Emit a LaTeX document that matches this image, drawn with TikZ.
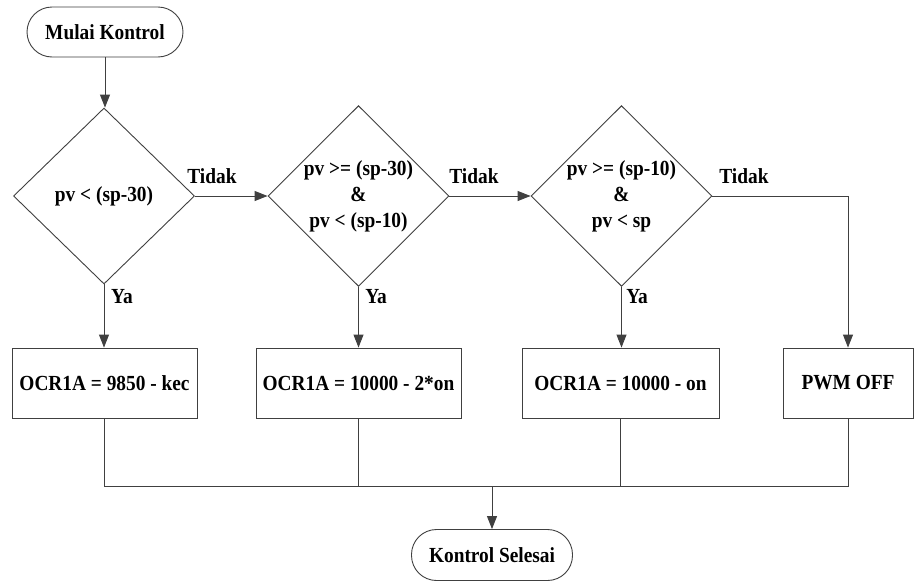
\documentclass[tikz,border=0pt]{standalone}
\usepackage{fontspec}
\newfontfamily\diafont{Liberation Serif}[UprightFont={* Bold}, FakeStretch=0.9]
\usetikzlibrary{shapes.geometric,arrows.meta}
\begin{document}
\begin{tikzpicture}[x=1pt,y=-1pt,
  every node/.style={font=\diafont\fontsize{21.5}{26}\selectfont, text=black},
  lineclr/.style={draw=black!75, line width=0.9pt},
  term/.style={lineclr, rectangle, rounded corners=25pt, inner sep=0pt},
  decision/.style={lineclr, diamond, inner sep=0pt, minimum width=181pt, minimum height=176pt, align=center},
  proc/.style={lineclr, rectangle, inner sep=0pt, minimum height=70pt},
  conn/.style={lineclr},
  arr/.style={lineclr, -{Triangle[length=13pt,width=10pt]}},
  lbl/.style={inner sep=0pt}
]
\useasboundingbox[fill=white] (0,0) rectangle (914,584);

\node[term, minimum width=156pt, minimum height=50pt] (start) at (105,32) {Mulai Kontrol};

\node[decision] (d1) at (104,196) {pv < (sp-30)};
\node[decision] (d2) at (358.5,196) {pv >= (sp-30)\\\&\\pv < (sp-10)};
\node[decision] (d3) at (621.5,196) {pv >= (sp-10)\\\&\\pv < sp};

\node[proc, minimum width=185pt] (b1) at (104.5,383) {OCR1A = 9850 - kec};
\node[proc, minimum width=205pt] (b2) at (358.5,383) {OCR1A = 10000 - 2*on};
\node[proc, minimum width=197pt] (b3) at (620.5,383) {OCR1A = 10000 - on};
\node[proc, minimum width=130pt] (b4) at (848,383) {PWM OFF};

\node[term, minimum width=161pt, minimum height=51pt] (end) at (492,555) {Kontrol Selesai};

% labels
\node[lbl] (t1) at (212,176) {Tidak};
\node[lbl] (t2) at (474,176) {Tidak};
\node[lbl] (t3) at (744,176) {Tidak};
\node[lbl] (y1) at (122,297) {Ya};
\node[lbl] (y2) at (376,297) {Ya};
\node[lbl] (y3) at (637,297) {Ya};

% connectors
\draw[arr] (start.south) -- (start.south |- d1.north);
\draw[arr] (d1.east) -- (d2.west);
\draw[arr] (d2.east) -- (d3.west);
\draw[arr] (d3.east) -| (b4.north);
\draw[arr] (d1.south) -- (d1.south |- b1.north);
\draw[arr] (d2.south) -- (d2.south |- b2.north);
\draw[arr] (d3.south) -- (d3.south |- b3.north);

\coordinate (j) at (492,486);
\draw[conn] (b1.south) -- (b1.south |- j) -- (b4.south |- j) -- (b4.south);
\draw[conn] (b2.south) -- (b2.south |- j);
\draw[conn] (b3.south) -- (b3.south |- j);
\draw[arr] (j) -- (end.north);
\end{tikzpicture}
\end{document}
